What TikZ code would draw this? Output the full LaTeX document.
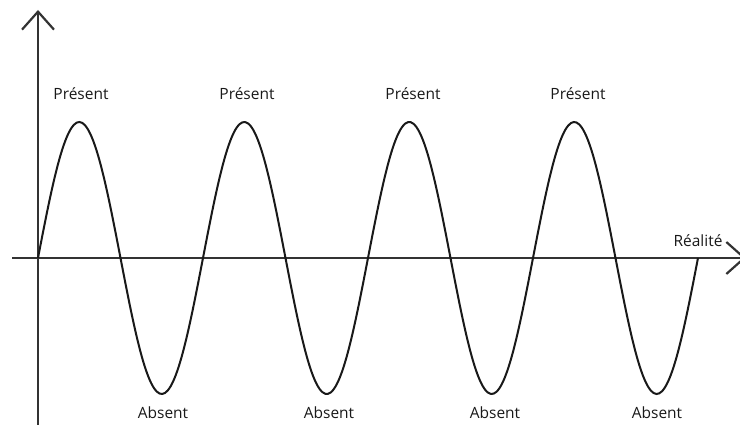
\documentclass[tikz,border=0pt]{standalone}
\usepackage{fontspec}
\setmainfont{Open Sans}
\usetikzlibrary{arrows.meta}
\begin{document}
\begin{tikzpicture}[x=1pt,y=1pt,
  axis/.style={line width=2.2pt, draw=black!80, -{Straight Barb[length=18pt,width=32pt,line width=2.2pt]}},
  wave/.style={line width=2pt, draw=black!90},
  lbl/.style={font=\fontsize{15.5}{18}\selectfont, text=black!90, inner sep=0pt}]
\useasboundingbox (0,0) rectangle (740,425);
\coordinate (ybot) at (38,0);
\coordinate (ytop) at (38,415);
\coordinate (xleft) at (12,167);
\coordinate (xright) at (746,167);
\draw[axis] (ybot) -- (ytop);
\draw[axis] (xleft) -- (xright);
\draw[wave] plot[domain=0:1440, samples=240, smooth] ({38+\x*0.458333}, {167+136*sin(\x)});
\node[lbl] (p1) at (81,331) {Présent};
\node[lbl] (p2) at (247,331) {Présent};
\node[lbl] (p3) at (413,331) {Présent};
\node[lbl] (p4) at (578,331) {Présent};
\node[lbl] (a1) at (163,12) {Absent};
\node[lbl] (a2) at (329,12) {Absent};
\node[lbl] (a3) at (495,12) {Absent};
\node[lbl] (a4) at (657,12) {Absent};
\node[lbl] (r) at (698,184) {Réalité};
\end{tikzpicture}
\end{document}
